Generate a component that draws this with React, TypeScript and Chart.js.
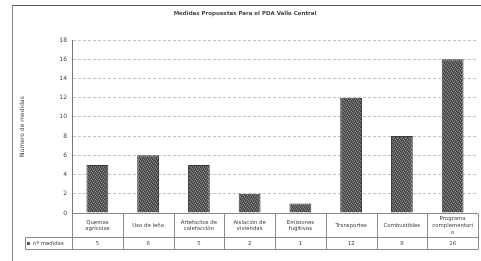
import React, { useEffect, useRef } from "react";
import { Chart, registerables } from "chart.js";

Chart.register(...registerables);

const chartTitle = "Medidas Propuestas Para el PDA Valle Central";
const yAxisTitle = "Número de medidas";
const seriesName = "nº medidas";
const categories: string[][] = [
  ["Quemas", "agrícolas"],
  ["Uso de leña"],
  ["Artefactos de", "calefacción"],
  ["Aislación de", "viviendas"],
  ["Emisiones", "fugitivas"],
  ["Transportes"],
  ["Combustibles"],
  ["Programa", "complementari", "o"],
];
const values: number[] = [5, 6, 5, 2, 1, 12, 8, 16];
const tableValues: string[] = ["5", "6", "5", "2", "1", "12", "8", "16"];
const yMin = 0;
const yMax = 18;
const yStep = 2;

const FONT = "'DejaVu Sans', 'Liberation Sans', sans-serif";

function makePattern(): CanvasPattern | string {
  const c = document.createElement("canvas");
  c.width = 4;
  c.height = 4;
  const g = c.getContext("2d");
  if (!g) return "#5e5e5e";
  g.fillStyle = "#5a5a5a";
  g.fillRect(0, 0, 4, 4);
  const light = [[0, 0], [2, 1], [1, 2], [3, 3]];
  const dark = [[1, 0], [3, 1], [0, 3], [2, 2]];
  g.fillStyle = "#858585";
  light.forEach(([x, y]) => g.fillRect(x, y, 1, 1));
  g.fillStyle = "#3c3c3c";
  dark.forEach(([x, y]) => g.fillRect(x, y, 1, 1));
  return g.createPattern(c, "repeat") || "#5e5e5e";
}

const framePlugin = {
  id: "frame",
  beforeDraw(chart: any) {
    const { ctx } = chart;
    ctx.save();
    ctx.fillStyle = "#ffffff";
    ctx.fillRect(0, 0, chart.width, chart.height);
    ctx.strokeStyle = "#555";
    ctx.lineWidth = 1;
    ctx.beginPath();
    ctx.moveTo(12, 5.5);
    ctx.lineTo(chart.width, 5.5);
    ctx.stroke();
    ctx.strokeStyle = "#888";
    ctx.beginPath();
    ctx.moveTo(12.5, 5);
    ctx.lineTo(12.5, chart.height);
    ctx.stroke();
    ctx.restore();
  },
};

const tablePlugin = {
  id: "dataTable",
  afterDraw(chart: any) {
    const { ctx, chartArea } = chart;
    const xs = chart.scales.x;
    const left = chartArea.left;
    const right = chartArea.right;
    const top = Math.round(chartArea.bottom) + 0.5;
    const split = top + 24;
    const bottom = split + 12;
    const headerLeft = 25.5;
    const n = categories.length;
    const half = (xs.getPixelForValue(1) - xs.getPixelForValue(0)) / 2;

    ctx.save();
    ctx.lineWidth = 1;
    ctx.strokeStyle = "#8a8a8a";
    ctx.beginPath();
    ctx.moveTo(left, top);
    ctx.lineTo(right, top);
    ctx.moveTo(headerLeft, split);
    ctx.lineTo(right, split);
    ctx.moveTo(headerLeft, bottom);
    ctx.lineTo(right, bottom);
    for (let i = 0; i <= n; i++) {
      const xb = Math.round(xs.getPixelForValue(0) - half + i * 2 * half) + 0.5;
      ctx.moveTo(xb, top);
      ctx.lineTo(xb, bottom);
    }
    ctx.moveTo(headerLeft, split);
    ctx.lineTo(headerLeft, bottom);
    ctx.stroke();

    ctx.fillStyle = "#3a3a3a";
    ctx.textAlign = "center";
    ctx.textBaseline = "middle";
    ctx.font = `5.4px ${FONT}`;
    const lh = 6.8;
    categories.forEach((lines, i) => {
      const cx = xs.getPixelForValue(i);
      const mid = (top + split) / 2;
      const start = mid - ((lines.length - 1) * lh) / 2;
      lines.forEach((t, j) => ctx.fillText(t, cx, start + j * lh));
    });
    const vy = (split + bottom) / 2;
    tableValues.forEach((t, i) => {
      ctx.fillText(t, xs.getPixelForValue(i), vy);
    });
    // row header
    ctx.fillStyle = "#5a5a5a";
    ctx.fillRect(27, vy - 1.5, 3, 3);
    ctx.fillStyle = "#3a3a3a";
    ctx.textAlign = "left";
    ctx.fillText(seriesName, 33, vy);
    ctx.restore();
  },
};

export default function App() {
  const ref = useRef<HTMLCanvasElement | null>(null);

  useEffect(() => {
    document.body.style.margin = "0";
    if (!ref.current) return;
    const pattern = makePattern();
    const chart = new Chart(ref.current, {
      type: "bar",
      data: {
        labels: categories.map((c) => c.join(" ")),
        datasets: [
          {
            label: seriesName,
            data: values,
            backgroundColor: pattern as any,
            borderColor: "#3a3a3a",
            borderWidth: 1,
            barPercentage: 0.43,
            categoryPercentage: 1,
          },
        ],
      },
      options: {
        responsive: false,
        animation: false,
        devicePixelRatio: 1,
        layout: { padding: { left: 12, top: 5, right: 3, bottom: 48 } },
        plugins: {
          legend: { display: false },
          tooltip: { enabled: false },
          title: {
            display: true,
            text: chartTitle,
            color: "#444",
            font: { family: FONT, size: 5.5, weight: "bold" },
            padding: { top: 5.2, bottom: 23.2 },
          },
        },
        scales: {
          x: {
            display: false,
            offset: true,
          },
          y: {
            min: yMin,
            max: yMax,
            ticks: {
              stepSize: yStep,
              color: "#444",
              font: { family: FONT, size: 6 },
              padding: 5,
            },
            grid: {
              color: "#c2c2c2",
              drawTicks: false,
            },
            border: { display: true, color: "#777", width: 1, dash: [3, 2] },
            title: {
              display: true,
              text: yAxisTitle,
              color: "#444",
              font: { family: FONT, size: 6 },
              padding: { top: 6.4, bottom: 0 },
            },
            afterFit: (scale: any) => {
              scale.width = 60;
            },
          },
        },
      },
      plugins: [framePlugin, tablePlugin],
    });
    return () => chart.destroy();
  }, []);

  return (
    <div style={{ position: "absolute", left: 0, top: 0, width: 481, height: 261 }}>
      <canvas ref={ref} width={481} height={261} style={{ width: 481, height: 261 }} />
    </div>
  );
}
